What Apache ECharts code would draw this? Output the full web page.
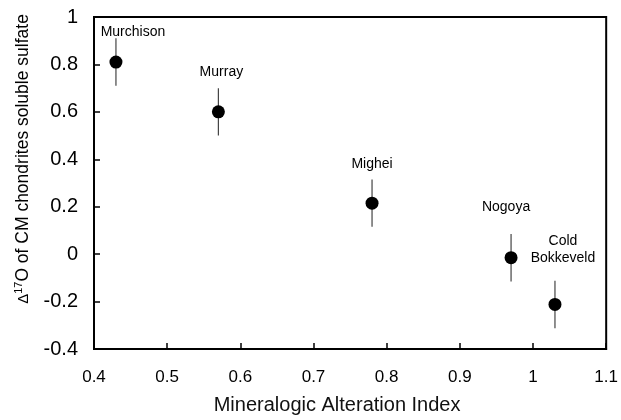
<!DOCTYPE html>
<html>
<head>
<meta charset="utf-8">
<script src="https://cdn.jsdelivr.net/npm/echarts@6/dist/echarts.min.js"></script>
<style>
  html, body { margin: 0; padding: 0; background: #fff; }
  #main { width: 621px; height: 420px; }
</style>
</head>
<body>
<div id="main"></div>
<script>
// meteorites and their values
var names = ["Murchison", "Murray", "Mighei", "Nogoya", "Cold\nBokkeveld"];
var alteration = [0.43, 0.57, 0.78, 0.97, 1.03];
var delta17O = [0.81, 0.60, 0.215, -0.015, -0.212];
var errLow = [0.71, 0.50, 0.115, -0.115, -0.312];
var errHigh = [0.91, 0.70, 0.315, 0.085, -0.112];

// label placement (pixels, relative to point)
var labelOffsets = [[17, -30], [3, -40], [0, -39], [-5, -51], [8, -55]];

var chartDom = document.getElementById("main");
var myChart = echarts.init(chartDom);
var option;

var points = alteration.map(function (x, i) {
  return {
    value: [x, delta17O[i]],
    label: {
      show: true,
      formatter: names[i],
      position: "inside",
      offset: labelOffsets[i],
    },
  };
});
var bars = alteration.map(function (x, i) {
  return [x, errLow[i], errHigh[i]];
});

option = {
  animation: false,
  grid: {
    left: 94,
    right: 12,
    top: 17,
    bottom: 64,
    show: true,
    borderColor: "#000",
    borderWidth: 2,
  },
  xAxis: {
    type: "value",
    min: 0.4,
    max: 1.1,
    interval: 0.1,
    name: "Mineralogic Alteration Index",
    nameLocation: "middle",
    nameGap: 46,
    nameTextStyle: {
      fontFamily: "Liberation Sans",
      fontSize: 20,
      color: "#111",
      padding: [0, 26, 0, 0],
    },
    axisLine: { onZero: false, lineStyle: { color: "#000", width: 2 } },
    axisTick: { inside: true, length: 6, lineStyle: { color: "#000", width: 1.5 } },
    axisLabel: {
      fontFamily: "Liberation Sans",
      fontSize: 17,
      color: "#000",
      margin: 20,
      formatter: function (v) {
        return +v.toFixed(1) + "";
      },
    },
    splitLine: { show: false },
  },
  yAxis: {
    type: "value",
    min: -0.4,
    max: 1,
    interval: 0.2,
    name: "{d|Δ}{sup|17}{t|O of CM chondrites soluble sulfate}",
    nameLocation: "middle",
    nameGap: 60,
    nameTextStyle: {
      padding: [0, 0, 0, 48],
      rich: {
        d: { fontFamily: "Liberation Sans", fontSize: 15, color: "#000" },
        sup: { fontFamily: "Liberation Sans", fontSize: 11, color: "#000", padding: [0, 0, 10, 0] },
        t: { fontFamily: "Liberation Sans", fontSize: 17.5, color: "#000" },
      },
    },
    axisLine: { onZero: false, lineStyle: { color: "#000", width: 2 } },
    axisTick: { inside: true, length: 6, lineStyle: { color: "#000", width: 1.5 } },
    axisLabel: {
      fontFamily: "Liberation Sans",
      fontSize: 20,
      color: "#000",
      margin: 16,
      padding: [6, 0, 0, 0],
      formatter: function (v) {
        return +v.toFixed(1) + "";
      },
    },
    splitLine: { show: false },
  },
  series: [
    {
      type: "custom",
      data: bars,
      renderItem: function (params, api) {
        var lo = api.coord([api.value(0), api.value(1)]);
        var hi = api.coord([api.value(0), api.value(2)]);
        return {
          type: "line",
          shape: { x1: lo[0], y1: lo[1], x2: hi[0], y2: hi[1] },
          style: { stroke: "#444", lineWidth: 1.2 },
        };
      },
      z: 1,
    },
    {
      type: "scatter",
      data: points,
      symbol: "circle",
      symbolSize: 13,
      itemStyle: { color: "#000", opacity: 1 },
      label: {
        fontFamily: "Liberation Sans",
        fontSize: 14,
        color: "#000",
        lineHeight: 17,
        align: "center",
      },
      z: 2,
    },
  ],
};

option && myChart.setOption(option);
</script>
</body>
</html>
